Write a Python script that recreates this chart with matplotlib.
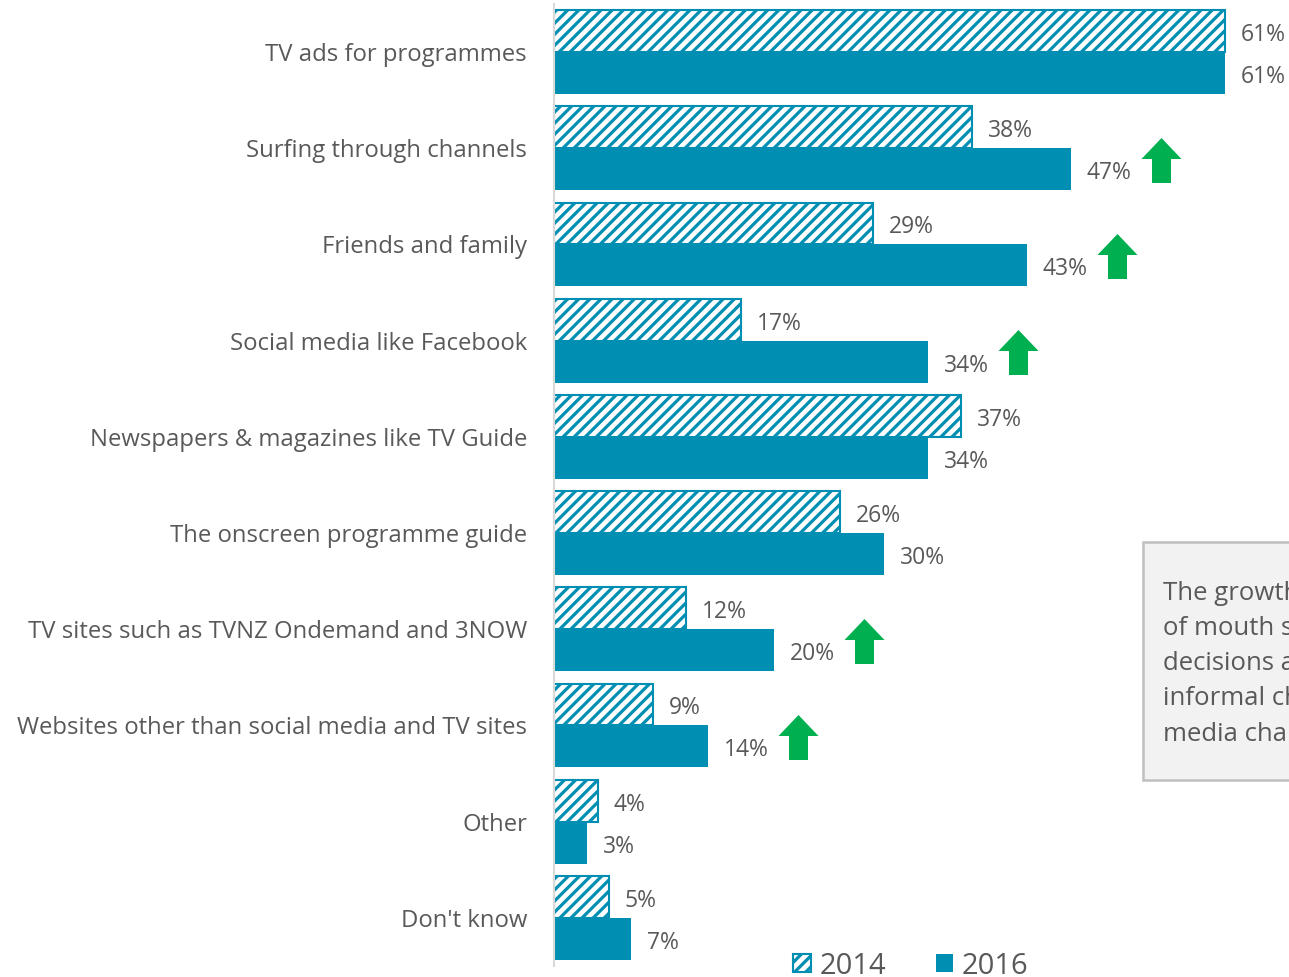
import matplotlib
matplotlib.use("Agg")
import matplotlib.pyplot as plt
from matplotlib.patches import Rectangle
from matplotlib.path import Path

# --- DATA ---
categories = [
    "TV ads for programmes",
    "Surfing through channels",
    "Friends and family",
    "Social media like Facebook",
    "Newspapers & magazines like TV Guide",
    "The onscreen programme guide",
    "TV sites such as TVNZ Ondemand and 3NOW",
    "Websites other than social media and TV sites",
    "Other",
    "Don't know",
]
v2014 = [61, 38, 29, 17, 37, 26, 12, 9, 4, 5]
v2016 = [61, 47, 43, 34, 34, 30, 20, 14, 3, 7]
sig_up = [False, True, True, True, False, False, True, True, False, False]

note_lines = [
    "The growth in word",
    "of mouth suggests",
    "decisions are made",
    "informal channels",
    "media channels",
]

# --- STYLE ---
TEAL = "#008FB3"
GREY = "#595959"
GREEN = "#00B050"
W, H = 1289, 977

plt.rcParams['font.family'] = ['Open Sans', 'DejaVu Sans']
plt.rcParams['hatch.linewidth'] = 2.3

# arrow marker (up)
arrow_verts = [(0, 22.5), (20, 1.5), (9.5, 1.5), (9.5, -22.5), (-9.5, -22.5),
               (-9.5, 1.5), (-20, 1.5), (0, 22.5)]
arrow_path = Path(arrow_verts, [Path.MOVETO] + [Path.LINETO] * 6 + [Path.CLOSEPOLY])

fig = plt.figure(figsize=(W / 100, H / 100), dpi=100)
ax = fig.add_axes([554 / W, 1 - 966 / H, (W - 554) / W, 962 / H])

px = 11.0  # pixels per percent
ax.set_xlim(0, (W - 554) / px)
ax.set_ylim(len(categories) - 0.5, -0.5)

bh = 0.435
ys = list(range(len(categories)))
y14 = [y - bh / 2 for y in ys]
y16 = [y + bh / 2 for y in ys]

ax.barh(y14, v2014, height=bh, color="white", edgecolor=TEAL, hatch="///",
        linewidth=1.5, label="2014")
ax.barh(y16, v2016, height=bh, color=TEAL, linewidth=0, label="2016")

for y, v in zip(y14, v2014):
    ax.annotate(f"{v}%", (v, y), xytext=(11.5, -2.8), textcoords="offset points",
                ha="left", va="center", fontsize=16.5, color=GREY)
for y, v in zip(y16, v2016):
    ax.annotate(f"{v}%", (v, y), xytext=(11.5, -2.8), textcoords="offset points",
                ha="left", va="center", fontsize=16.5, color=GREY)

ax_x = [v + 90 / px for v, s in zip(v2016, sig_up) if s]
ax_y = [y + 0.12 for y, s in zip(ys, sig_up) if s]
ax.scatter(ax_x, ax_y, marker=arrow_path, s=(45 * 0.72) ** 2, color=GREEN,
           linewidths=0, zorder=5, clip_on=False)

ax.set_yticks(ys)
ax.set_yticklabels(categories, fontsize=17.2, color=GREY)
ax.tick_params(axis="y", length=0, pad=19.5)
ax.set_xticks([])
for side in ("top", "right", "bottom"):
    ax.spines[side].set_visible(False)
ax.spines["left"].set_color("#D9D9D9")
ax.spines["left"].set_linewidth(1.5)

# legend
fig.legend(loc="center", bbox_to_anchor=(911 / W, 1 - 966 / H), ncol=2,
           frameon=False, fontsize=21, labelcolor=GREY, handlelength=0.6,
           handleheight=0.6, handletextpad=0.3, columnspacing=1.7,
           borderpad=0, borderaxespad=0)

# note box on the right (cut off by the figure edge, as in the source)
fig.patches.append(Rectangle((1143 / W, 1 - 780 / H), 300 / W, 238 / H,
                             transform=fig.transFigure, facecolor="#F2F2F2",
                             edgecolor="#BFBFBF", linewidth=1.8))
for i, line in enumerate(note_lines):
    fig.text(1163 / W, 1 - (593 + 35.3 * i) / H, line, ha="left", va="center",
             fontsize=18.5, color=GREY)

fig.savefig("out.png", dpi=100)
